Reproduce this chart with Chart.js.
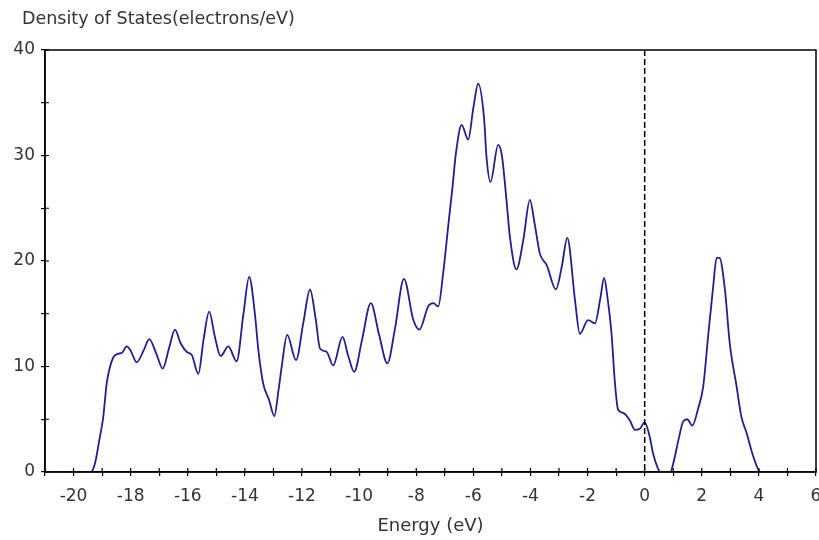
<!DOCTYPE html>
<html lang="en">
<head>
    <meta charset="UTF-8">
    <title>Density of States</title>
    <script src="https://cdn.jsdelivr.net/npm/chart.js@4.4.0/dist/chart.umd.min.js"></script>
    <style>
        html, body { margin: 0; padding: 0; background: #fff; }
        #wrap { width: 819px; height: 540px; position: relative; }
    </style>
</head>
<body>
    <div id="wrap">
        <canvas id="dosChart"></canvas>
    </div>

    <script>
        // Energy grid (eV) and density of states
        const energy = [
            -21, -19.4, -19.25, -19.1, -18.96, -18.84, -18.72, -18.6, -18.45, -18.3,
            -18.14, -18.0, -17.79, -17.55, -17.35, -17.1, -16.88, -16.65, -16.45, -16.25,
            -16.04, -15.86, -15.63, -15.45, -15.25, -15.05, -14.85, -14.58, -14.29, -14.05,
            -13.85, -13.65, -13.53, -13.36, -13.15, -12.97, -12.82, -12.71, -12.52, -12.21,
            -11.95, -11.72, -11.52, -11.37, -11.14, -10.91, -10.58, -10.38, -10.17, -9.9,
            -9.59, -9.3, -9.01, -8.75, -8.43, -8.1, -7.89, -7.58, -7.4, -7.23,
            -7.05, -6.88, -6.73, -6.61, -6.41, -6.18, -6.0, -5.83, -5.62, -5.54,
            -5.4, -5.13, -5.0, -4.84, -4.72, -4.49, -4.25, -4.02, -3.85, -3.67,
            -3.43, -3.11, -2.9, -2.71, -2.44, -2.27, -1.98, -1.74, -1.55, -1.42,
            -1.3, -1.16, -1.04, -0.93, -0.75, -0.52, -0.34, -0.17, 0.0, 0.18,
            0.29, 0.47, 0.55, 0.9, 1.0, 1.18, 1.35, 1.49, 1.67, 1.87,
            2.05, 2.22, 2.4, 2.52, 2.62, 2.81, 2.98, 3.22, 3.39, 3.57,
            3.8, 4.01, 4.1, 6
        ];
        const dos = [
            0, 0, 0.8, 3.0, 5.2, 8.4, 10.0, 10.9, 11.2, 11.3,
            11.9, 11.5, 10.4, 11.5, 12.6, 11.2, 9.8, 11.8, 13.5, 12.2,
            11.4, 11.1, 9.3, 12.5, 15.2, 12.8, 11.0, 11.9, 10.5, 15.0,
            18.5, 15.0, 11.6, 8.4, 6.8, 5.3, 7.8, 10.0, 13.0, 10.6,
            14.2, 17.3, 14.5, 11.7, 11.4, 10.1, 12.8, 11.0, 9.5, 12.5,
            16.0, 13.0, 10.3, 13.5, 18.3, 14.4, 13.5, 15.7, 16.0, 15.7,
            19.0, 23.3, 27.0, 30.2, 32.9, 31.5, 34.5, 36.8, 33.4, 29.9,
            27.5, 31.0, 30.0, 25.8, 22.3, 19.2, 22.0, 25.8, 23.5, 20.7,
            19.6, 17.3, 19.5, 22.2, 16.3, 13.1, 14.4, 14.1, 16.5, 18.4,
            16.5, 13.1, 8.4, 5.9, 5.6, 4.9, 4.0, 4.1, 4.7, 3.3,
            1.8, 0.3, 0, 0, 0.8, 3.0, 4.8, 5.0, 4.4, 6.0,
            8.1, 12.8, 17.6, 20.3, 20.3, 17.3, 12.2, 8.1, 5.2, 3.7,
            1.5, 0.1, 0, 0
        ];

        // axis ranges / ticks
        const xRange = [-21, 6];
        const yRange = [0, 40];
        const fermiLevel = 0;

        const points = energy.map((e, i) => ({ x: e, y: dos[i] }));

        const fontFamily = 'DejaVu Sans, Verdana, sans-serif';
        const textColor = '#333';

        // frame, inner tick marks, dashed Fermi line and top-left title
        const decorPlugin = {
            id: 'decor',
            afterDraw(chart) {
                const { ctx, chartArea: a, scales } = chart;
                ctx.save();
                ctx.strokeStyle = '#000';
                ctx.lineWidth = 1.5;
                ctx.strokeRect(a.left, a.top, a.right - a.left, a.bottom - a.top);

                // inner halves of tick marks
                ctx.lineWidth = 1.2;
                ctx.beginPath();
                scales.x.ticks.forEach(t => {
                    const px = scales.x.getPixelForValue(t.value);
                    ctx.moveTo(px, a.bottom);
                    ctx.lineTo(px, a.bottom - 4);
                });
                scales.y.ticks.forEach(t => {
                    const py = scales.y.getPixelForValue(t.value);
                    ctx.moveTo(a.left, py);
                    ctx.lineTo(a.left + 4, py);
                });
                ctx.stroke();

                // Fermi level
                const fx = scales.x.getPixelForValue(fermiLevel);
                ctx.setLineDash([6, 3]);
                ctx.lineWidth = 1.5;
                ctx.beginPath();
                ctx.moveTo(fx, a.top);
                ctx.lineTo(fx, a.bottom);
                ctx.stroke();
                ctx.setLineDash([]);

                // y-axis caption
                ctx.fillStyle = textColor;
                ctx.font = '17.5px ' + fontFamily;
                ctx.textBaseline = 'middle';
                ctx.textAlign = 'left';
                ctx.fillText('Density of States(electrons/eV)', a.left - 23, 19);
                ctx.restore();
            }
        };

        const ctx = document.getElementById('dosChart').getContext('2d');
        const dosChart = new Chart(ctx, {
            type: 'line',
            data: {
                datasets: [{
                    data: points,
                    borderColor: '#1f1f8f',
                    borderWidth: 1.8,
                    pointRadius: 0,
                    cubicInterpolationMode: 'monotone',
                    fill: false
                }]
            },
            options: {
                responsive: true,
                maintainAspectRatio: false,
                animation: false,
                layout: { padding: { top: 50, left: 0, right: 3, bottom: 0 } },
                scales: {
                    x: {
                        type: 'linear',
                        min: xRange[0],
                        max: xRange[1],
                        border: { color: '#000', width: 1.5 },
                        grid: { drawOnChartArea: false, color: '#000', tickLength: 4, lineWidth: 1.2 },
                        ticks: {
                            stepSize: 1,
                            autoSkip: false,
                            maxRotation: 0,
                            padding: 10,
                            color: textColor,
                            font: { family: fontFamily, size: 17 },
                            callback: v => (v % 2 === 0 ? v : '')
                        },
                        title: {
                            display: true,
                            text: 'Energy (eV)',
                            color: textColor,
                            font: { family: fontFamily, size: 18 },
                            padding: { top: 2, bottom: 3 }
                        },
                        afterFit: s => {
                            s.height = 68;
                            s.paddingRight = 0;
                            s.paddingLeft = 0;
                        }
                    },
                    y: {
                        min: yRange[0],
                        max: yRange[1],
                        border: { color: '#000', width: 1.5 },
                        grid: { drawOnChartArea: false, color: '#000', tickLength: 4, lineWidth: 1.2 },
                        ticks: {
                            stepSize: 5,
                            padding: 6,
                            color: textColor,
                            font: { family: fontFamily, size: 17 },
                            callback: v => (v % 10 === 0 ? v : '')
                        },
                        afterFit: s => {
                            s.width = 45;
                            s.paddingTop = 0;
                            s.paddingBottom = 0;
                        }
                    }
                },
                plugins: {
                    legend: { display: false },
                    tooltip: { enabled: false }
                }
            },
            plugins: [decorPlugin]
        });
    </script>
</body>
</html>
